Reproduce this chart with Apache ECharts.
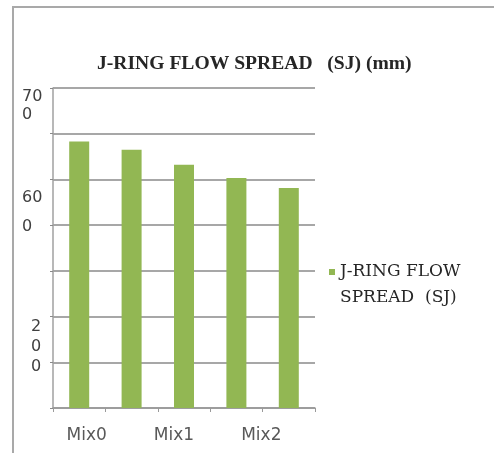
<!DOCTYPE html>
<html>
<head>
<meta charset="utf-8">
<script src="https://cdn.jsdelivr.net/npm/echarts@6/dist/echarts.min.js"></script>
<style>
  html, body { margin: 0; padding: 0; background: #fff; }
  #frame {
    position: absolute; left: 12px; top: 6px; width: 482px; height: 447px;
    border-left: 2px solid #a9a9a9; border-top: 2px solid #a9a9a9; box-sizing: border-box;
  }
  #chart { position: absolute; left: 0; top: 0; width: 494px; height: 453px; }
</style>
</head>
<body>
<div id="frame"></div>
<div id="chart"></div>
<script>
// Five bars, three category captions under them
const barSlots = ['1', '2', '3', '4', '5'];
const spreadValues = [583, 565, 532, 503, 481];
const categoryLabels = ['Mix0', 'Mix1', 'Mix2'];
const seriesName = 'J-RING FLOW SPREAD  (SJ)';
const chartTitle = 'J-RING FLOW SPREAD   (SJ) (mm)';
// y tick captions, wrapped as printed
const yTickText = { 700: '70\n0', 600: '{gap| }\n60\n{tall|0}', 200: '{ind|2}\n{ind|0}\n{ind|0}' };

const chart = echarts.init(document.getElementById('chart'), null, { renderer: 'canvas' });

chart.setOption({
  animation: false,
  title: {
    text: chartTitle,
    left: 92,
    top: 49,
    textStyle: { fontFamily: 'Liberation Serif', fontWeight: 'bold', fontSize: 19.6, color: '#262626' }
  },
  legend: {
    data: [seriesName],
    left: 329,
    top: 233,
    padding: 0,
    icon: 'rect',
    itemWidth: 6,
    itemHeight: 6,
    itemGap: 4,
    // blank first line keeps the swatch level with the first caption line
    formatter: name => '{gap| }\n' + name.replace(' SPREAD', '\nSPREAD'),
    textStyle: {
      fontFamily: 'DejaVu Serif', fontSize: 17, color: '#262626', lineHeight: 26,
      rich: { gap: { lineHeight: 26, fontSize: 17 } }
    }
  },
  grid: { left: 53, right: 179, top: 88, bottom: 45, containLabel: false },
  xAxis: [
    {
      type: 'category',
      data: barSlots,
      position: 'bottom',
      boundaryGap: true,
      axisLine: { lineStyle: { color: '#9a9a9a', width: 1.5 } },
      axisTick: { show: true, length: 4, lineStyle: { color: '#9a9a9a' } },
      axisLabel: { show: false }
    },
    {
      type: 'category',
      data: categoryLabels,
      position: 'bottom',
      axisLine: { show: false },
      axisTick: { show: false },
      axisLabel: {
        margin: 19,
        fontFamily: 'DejaVu Sans', fontSize: 17, color: '#595959',
        padding: [0, 20, 0, 0]
      }
    }
  ],
  yAxis: {
    type: 'value',
    min: 0,
    max: 700,
    interval: 100,
    axisLine: { show: true, lineStyle: { color: '#a0a0a0', width: 1.5 } },
    axisTick: { show: true, length: 3, lineStyle: { color: '#8a8a8a' } },
    splitLine: { lineStyle: { color: '#8a8a8a', width: 1.5 } },
    axisLabel: {
      formatter: v => yTickText[v] || '',
      align: 'left',
      verticalAlign: 'top',
      margin: 31,
      lineHeight: 18,
      fontFamily: 'DejaVu Sans', fontSize: 16, color: '#404040',
      rich: {
        gap: { lineHeight: 55, fontSize: 16 },
        tall: { lineHeight: 40, fontSize: 16, fontFamily: 'DejaVu Sans', color: '#404040' },
        ind: { lineHeight: 20, fontSize: 16, fontFamily: 'DejaVu Sans', color: '#404040', padding: [0, 0, 0, 9] }
      }
    }
  },
  series: [
    {
      name: seriesName,
      type: 'bar',
      xAxisIndex: 0,
      data: spreadValues,
      barWidth: 20,
      itemStyle: { color: '#92b753' }
    }
  ]
});
</script>
</body>
</html>
